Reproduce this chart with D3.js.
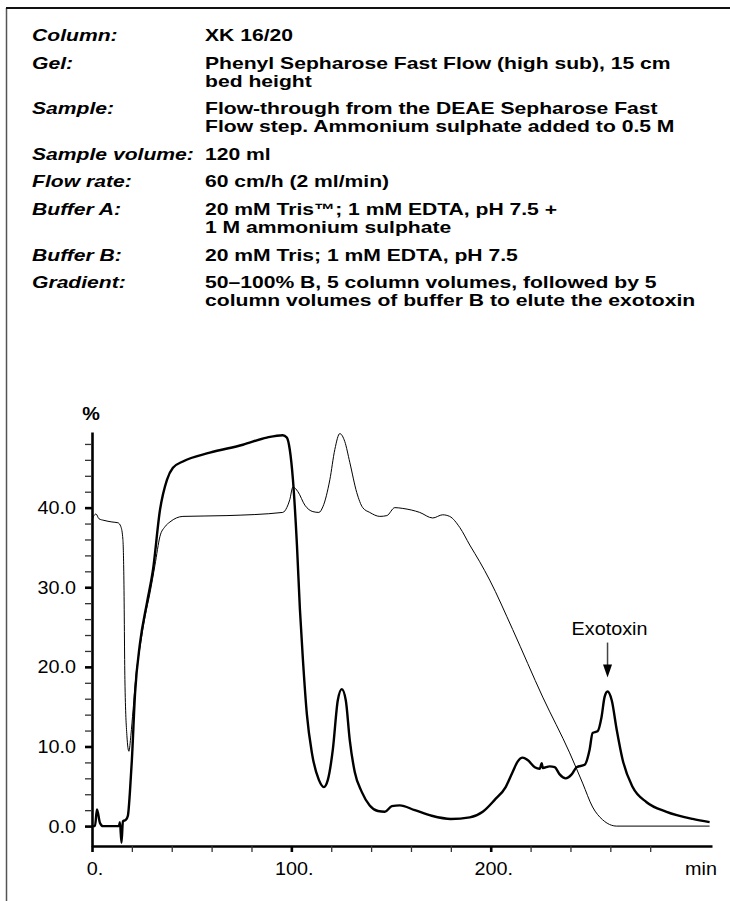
<!DOCTYPE html>
<html lang="en">
<head>
<meta charset="UTF-8">
<title>HIC exotoxin run</title>
<script src="https://cdn.jsdelivr.net/npm/d3@7"></script>
<style>
    body { margin: 0; background: #fff; }
    svg { display: block; font-family: "Liberation Sans", Arial, sans-serif; }
    path.uv { stroke: #000; stroke-width: 2.4px; fill: none; stroke-linejoin: round; }
    path.cond { stroke: #000; stroke-width: 1px; fill: none; }
    .hdr { font-size: 16.5px; font-weight: bold; }
    .hdr .lbl { font-style: italic; }
    .lab { font-size: 18px; }
</style>
</head>
<body>
<svg width="730" height="901"></svg>
<script>
// method text
const headLabels = ["Column:", "Gel:", "Sample:", "Sample volume:", "Flow rate:", "Buffer A:", "Buffer B:", "Gradient:"];
const headValues = [
    ["XK 16/20"],
    ["Phenyl Sepharose Fast Flow (high sub), 15 cm", "bed height"],
    ["Flow-through from the DEAE Sepharose Fast", "Flow step. Ammonium sulphate added to 0.5 M"],
    ["120 ml"],
    ["60 cm/h (2 ml/min)"],
    ["20 mM Tris\u2122; 1 mM EDTA, pH 7.5 +", "1 M ammonium sulphate"],
    ["20 mM Tris; 1 mM EDTA, pH 7.5"],
    ["50\u2013100% B, 5 column volumes, followed by 5", "column volumes of buffer B to elute the exotoxin"]
];

// thick trace (absorbance), min / %
const uvTime = [0, 1.5, 2.5, 4, 5.5, 13.5, 14, 14.8, 15.5, 17, 18, 19, 20, 21.6, 24.1, 27.6, 30.6, 34.1, 37.6, 40.6, 45.6,
    59.1, 75.7, 87.7, 95.7, 97.7, 99.2, 100.8, 102.8, 104.3, 105.8, 107.8, 110.3, 113.8, 116.3, 118.3, 120.8, 123.3,
    125.3, 127.3, 129.3, 131.8, 135.3, 139.3, 143.4, 146.9, 150.4, 154.4, 161.9, 170.4, 180, 189.5, 196, 202, 207.5,
    211, 213.5, 216, 218.5, 222.1, 224.6, 225.6, 226.1, 229.6, 232.1, 234.6, 237.6, 240.6, 243.1, 247.1, 249.6, 251.1,
    253.6, 255.6, 257.1, 258.6, 260.7, 263.2, 266.2, 271.2, 278.2, 288.2, 301.3, 309.8];
const uvValue = [0, 0, 2.1, 0.4, 0, 0, 0.5, -2.1, 0.6, 0.8, 1.3, 4.2, 8.3, 16.7, 23.0, 28.1, 32.2, 39.7, 43.5, 45.0, 45.8,
    46.9, 47.9, 48.8, 49.1, 48.8, 47.3, 43.5, 35.3, 27.2, 20.9, 14.0, 9.2, 5.8, 4.9, 5.8, 9.6, 15.8,
    17.2, 15.8, 10.8, 6.8, 4.3, 2.6, 1.9, 1.8, 2.5, 2.6, 2.0, 1.3, 0.9, 1.1, 1.8, 3.3, 4.9,
    6.8, 8.1, 8.6, 8.3, 7.4, 7.2, 7.9, 7.3, 7.5, 7.4, 6.5, 6.0, 6.5, 7.4, 7.7, 9.6, 11.7,
    11.9, 13.7, 16.2, 16.9, 15.8, 12.1, 8.3, 4.9, 3.0, 1.8, 0.9, 0.5];

// thin trace (conductivity)
const condTime = [0, 1, 2, 3.5, 6, 10, 13, 14.5, 15.5, 16, 16.5, 17.5, 18.5, 19.5, 20.6, 22.1, 24.1, 26.6, 29.1, 31.6,
    34.1, 36.6, 39.1, 45.6, 67.7, 95.7, 97.7, 99.2, 100.8, 103.3, 106.8, 110.8, 113.8, 115.8, 119.3, 121.8, 124.3,
    126.8, 129.3, 132.8, 135.8, 139.3, 144.4, 147.9, 151.9, 155.9, 164.4, 170.9, 175.9, 179.4, 184.5, 189.5, 194.5,
    199.5, 211, 226.1, 239.6, 246.1, 251.1, 256.1, 263.2, 309.8];
const condValue = [38.4, 39.0, 39.2, 38.6, 38.4, 38.2, 38.1, 37.6, 36.0, 30.9, 18.4, 11.4, 9.4, 11.4, 14.6, 19.0, 22.5, 26.3, 29.3, 32.8,
    36.4, 37.6, 38.2, 38.9, 39.0, 39.4, 40.0, 41.0, 42.6, 42.0, 40.3, 39.5, 39.4, 40.1, 43.5, 47.3, 49.3,
    48.3, 45.7, 41.9, 40.0, 39.4, 38.9, 39.0, 40.0, 39.9, 39.4, 38.7, 39.1, 38.9, 37.5, 35.3, 33.2,
    30.9, 24.7, 16.2, 9.2, 5.4, 2.4, 0.8, 0, 0];

const yTicks = [0, 10, 20, 30, 40];
const yTickLabels = ["0.0", "10.0", "20.0", "30.0", "40.0"];
const xTicks = [0, 100, 200];
const xTickLabels = ["0.", "100.", "200."];
const peakName = "Exotoxin";
const peakTime = 258.6, peakValue = 16.9;

let svg = d3.select('svg')

// frame (left and top edge only)
svg.append('line').attr('x1', 6.5).attr('x2', 6.5).attr('y1', 8).attr('y2', 901)
    .attr('stroke', '#555').attr('stroke-width', 1.5)
svg.append('line').attr('x1', 6).attr('x2', 730).attr('y1', 8).attr('y2', 8)
    .attr('stroke', '#111').attr('stroke-width', 1.8)

// header block, text is drawn a bit wide like in the print
let sx = 1.28
let hdr = svg.append('g').attr('class', 'hdr')
let base = 41
headLabels.forEach(function (lbl, i) {
    hdr.append('text').attr('class', 'lbl')
        .attr('transform', 'translate(32,' + base + ') scale(' + sx + ',1)')
        .text(lbl)
    headValues[i].forEach(function (v, j) {
        hdr.append('text')
            .attr('transform', 'translate(205,' + (base + j * 18) + ') scale(' + sx + ',1)')
            .text(v)
    })
    base += (headValues[i].length - 1) * 18 + 27.6
})

// scales
let x = d3.scaleLinear().domain([0, 311]).range([92, 712])
let y = d3.scaleLinear().domain([-2.5, 49.5]).range([846, 432])

let fig = svg.append('g')

let line = d3.line()
    .x(function (d) { return x(d[0]) })
    .y(function (d) { return y(d[1]) })
    .curve(d3.curveMonotoneX)

fig.append('path').attr('class', 'cond')
    .attr('d', line(d3.zip(condTime, condValue)))
fig.append('path').attr('class', 'uv')
    .attr('d', line(d3.zip(uvTime, uvValue)))

// y axis
let yMinor = d3.range(2, 49, 2).filter(function (d) { return d % 10 !== 0 })
let yAx = svg.append('g').attr('transform', 'translate(' + x(0) + ',0)')
yAx.call(d3.axisLeft(y).tickValues(yMinor).tickSize(7).tickSizeOuter(0).tickFormat(''))
yAx.select('.domain').attr('stroke', '#000').attr('stroke-width', 2.6)
yAx.selectAll('.tick line').attr('stroke', '#333').attr('stroke-width', 1.3)
let yMaj = svg.append('g').attr('transform', 'translate(' + x(0) + ',0)')
yMaj.call(d3.axisLeft(y).tickValues(yTicks).tickSize(7).tickFormat(''))
yMaj.select('.domain').remove()
yMaj.selectAll('.tick line').attr('stroke', '#000').attr('stroke-width', 2.6)

yTicks.forEach(function (t, i) {
    svg.append('text').attr('class', 'lab')
        .attr('text-anchor', 'end')
        .attr('transform', 'translate(76,' + (y(t) + 6.5) + ') scale(1.1,1)')
        .text(yTickLabels[i])
})
svg.append('text').attr('class', 'lab')
    .attr('text-anchor', 'middle').attr('font-weight', 'bold').attr('font-size', '17px')
    .attr('transform', 'translate(' + (x(0) - 1) + ',420) scale(1.1,1)')
    .text('%')

// x axis
let xMinor = d3.range(20, 301, 20).filter(function (d) { return d % 100 !== 0 })
let xAx = svg.append('g').attr('transform', 'translate(0,' + y(-2.5) + ')')
xAx.call(d3.axisBottom(x).tickValues(xMinor).tickSize(6).tickSizeOuter(0).tickFormat(''))
xAx.select('.domain').attr('stroke', '#000').attr('stroke-width', 2.6)
xAx.selectAll('.tick line').attr('stroke', '#333').attr('stroke-width', 1.3)
let xMaj = svg.append('g').attr('transform', 'translate(0,' + y(-2.5) + ')')
xMaj.call(d3.axisBottom(x).tickValues(xTicks).tickSize(6).tickFormat(''))
xMaj.select('.domain').remove()
xMaj.selectAll('.tick line').attr('stroke', '#000').attr('stroke-width', 2.6)

xTicks.forEach(function (t, i) {
    svg.append('text').attr('class', 'lab')
        .attr('text-anchor', 'middle')
        .attr('transform', 'translate(' + (x(t) + 3) + ',875) scale(1.1,1)')
        .text(xTickLabels[i])
})
svg.append('text').attr('class', 'lab')
    .attr('text-anchor', 'end')
    .attr('transform', 'translate(717,875) scale(1.1,1)')
    .text('min')

// exotoxin marker
let px = x(peakTime), py = y(peakValue)
svg.append('text').attr('class', 'lab')
    .attr('text-anchor', 'middle')
    .attr('transform', 'translate(' + (px + 2) + ',' + (py - 57) + ') scale(1.1,1)')
    .text(peakName)
svg.append('line').attr('x1', px).attr('x2', px).attr('y1', py - 49).attr('y2', py - 26)
    .attr('stroke', '#444').attr('stroke-width', 1.5)
svg.append('path')
    .attr('d', 'M' + (px - 4.5) + ',' + (py - 27) + 'L' + (px + 4.5) + ',' + (py - 27) + 'L' + px + ',' + (py - 14) + 'Z')
    .attr('fill', '#000')
</script>
</body>
</html>
